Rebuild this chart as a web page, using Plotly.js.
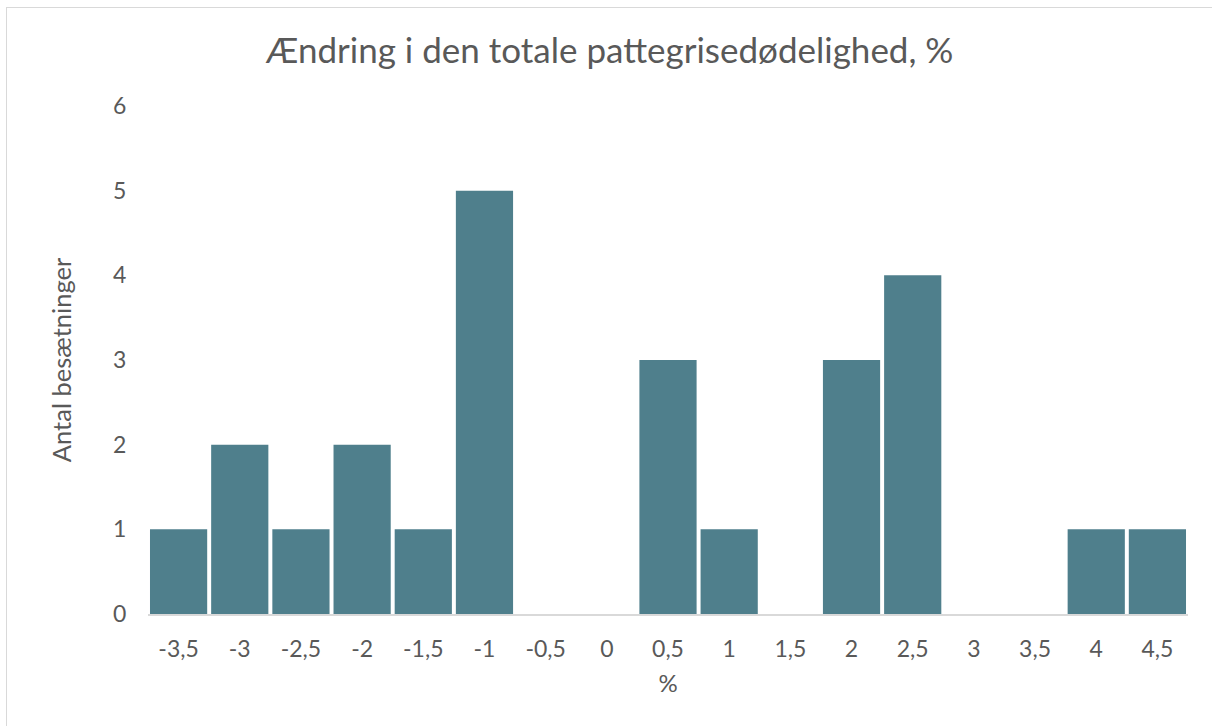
<!DOCTYPE html>
<html>
<head>
<meta charset="utf-8">
<script src="https://cdn.plot.ly/plotly-3.0.1.min.js"></script>
<style>
html,body{margin:0;padding:0;background:#fff;overflow:hidden;}
#frame{position:absolute;left:6px;top:7px;width:1220px;height:730px;border-left:1.5px solid #d9d9d9;border-top:1.5px solid #d9d9d9;box-sizing:border-box;pointer-events:none;}
#chart{position:absolute;left:0;top:0;width:1212px;height:726px;}
</style>
</head>
<body>
<div id="chart"></div>
<div id="frame"></div>
<script>
const categories = ["-3,5","-3","-2,5","-2","-1,5","-1","-0,5","0","0,5","1","1,5","2","2,5","3","3,5","4","4,5"];
const counts = [1,2,1,2,1,5,0,0,3,1,0,3,4,0,0,1,1];
const yTicks = [0,1,2,3,4,5,6];

const fontFam = "Lato, 'Open Sans', sans-serif";
const grey = "#595959";

const data = [{
  type: "bar",
  x: categories,
  y: counts,
  marker: {color: "#4f7f8c"},
  hoverinfo: "x+y"
}];

const layout = {
  width: 1212, height: 726,
  margin: {l: 148, r: 24, t: 106, b: 112},
  paper_bgcolor: "#fff",
  plot_bgcolor: "#fff",
  bargap: 0.065,
  showlegend: false,
  font: {family: fontFam, color: grey},
  title: {
    text: "Ændring i den totale pattegrisedødelighed, %",
    font: {family: fontFam, size: 35, color: grey},
    x: 0.503, xanchor: "center",
    y: 0.93, yanchor: "middle"
  },
  xaxis: {
    type: "category",
    tickvals: categories,
    ticktext: categories,
    tickfont: {size: 23, color: grey},
    ticks: "outside", ticklen: 14, tickcolor: "rgba(0,0,0,0)",
    showgrid: false, zeroline: false,
    showline: true, linecolor: "#d9d9d9", linewidth: 1.5,
    title: {text: "%", font: {size: 24, color: grey}, standoff: 14},
    fixedrange: true
  },
  yaxis: {
    range: [0, 6],
    tickvals: yTicks,
    ticktext: yTicks.map(String),
    tickfont: {size: 23, color: grey},
    ticks: "outside", ticklen: 16, tickcolor: "rgba(0,0,0,0)",
    showgrid: false, zeroline: false, showline: false,
    title: {text: "Antal besætninger", font: {size: 25.5, color: grey}, standoff: 34},
    fixedrange: true
  }
};

Plotly.newPlot("chart", data, layout, {displayModeBar: false, staticPlot: false});
</script>
</body>
</html>
